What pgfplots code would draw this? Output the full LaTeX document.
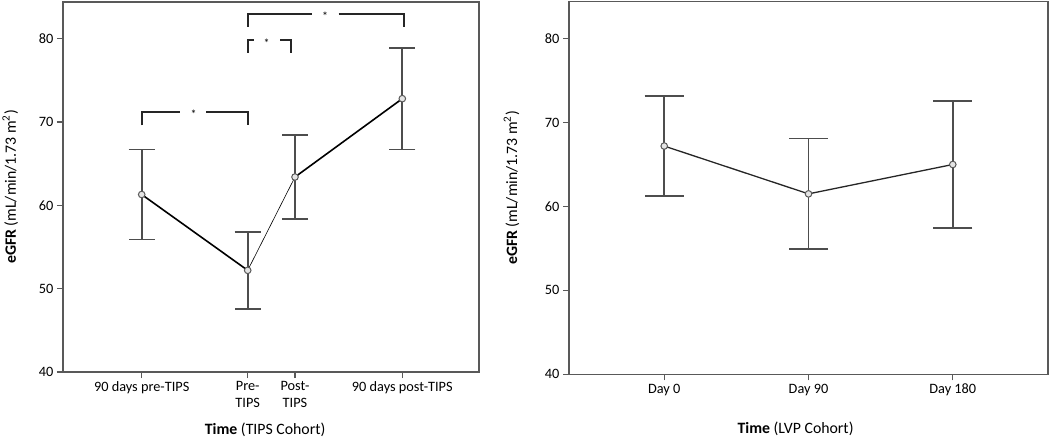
\documentclass[border=0pt]{standalone}
\usepackage{fontspec}
\setmainfont{Carlito}
\usepackage{pgfplots}
\pgfplotsset{compat=1.18}

\definecolor{axgray}{HTML}{595959}
\definecolor{bargray}{HTML}{4D4D4D}

\pgfplotsset{
  egfr/.style={
    scale only axis,
    anchor=south west,
    axis line style={axgray, line width=1.5bp},
    tick style={axgray, line width=1.3bp},
    tick align=outside, tick pos=left,
    major tick length=6bp,
    ymin=40, ymax=84.4,
    ytick={40,50,60,70,80},
    /pgf/number format/assume math mode=true,
    ticklabel style={font=\fontsize{14.3bp}{17bp}\selectfont},
    label style={font=\fontsize{15.8bp}{18bp}\selectfont},
    ylabel={\textbf{eGFR} (mL/min/1.73 m\textsuperscript{2})},
  },
  ebar/.style={
    error bars/.cd, y dir=both, y explicit,
    error bar style={draw=bargray, line width=1.8bp},
    error mark options={draw=bargray, line width=1.8bp, mark size=#1, rotate=90},
  },
  dot/.style={only marks, mark=*, mark size=3.3bp,
    mark options={draw=axgray, fill=gray!20, line width=1bp}},
}

\begin{document}
\begin{tikzpicture}
\useasboundingbox (0,0) rectangle (1050bp,437bp);

% left panel: TIPS cohort
\begin{axis}[egfr,
    at={(63bp,65bp)}, width=416bp, height=370bp,
    xmin=63, xmax=479,
    xtick={141.7,247.7,295,402.3},
    xticklabels={90 days pre-TIPS, Pre-\\TIPS, Post-\\TIPS, 90 days post-TIPS},
    xticklabel style={align=center},
    xlabel={\textbf{Time} (TIPS Cohort)},
    xlabel style={at={(axis description cs:0.486,0)}, anchor=center, yshift=-58bp},
    ylabel style={at={(axis description cs:-0.127,0.5)}, anchor=center},
  ]
  \addplot[black, line width=1.6bp] coordinates {(141.7,61.3) (247.7,52.2)};
  \addplot[black, line width=0.6bp] coordinates {(247.7,52.2) (295,63.4)};
  \addplot[black, line width=1.6bp] coordinates {(295,63.4) (402.3,72.8)};
  \addplot[dot, ebar=13bp] coordinates {
    (141.7,61.3) +- (0,5.4)
    (247.7,52.2) +- (0,4.6)
    (295,63.4)   +- (0,5.0)
    (402.3,72.8) +- (0,6.1)
  };

  % significance brackets
  \begin{scope}[line width=1.7bp, black!85]
    \draw (axis cs:141.7,69.6) |- (axis cs:180,71.2);
    \draw (axis cs:206,71.2) -| (axis cs:247.7,69.6);
    \draw (axis cs:247.7,78.3) |- (axis cs:254,79.8);
    \draw (axis cs:280,79.8) -| (axis cs:291,78.3);
    \draw (axis cs:247.7,81.4) |- (axis cs:312,83.0);
    \draw (axis cs:338.7,83.0) -| (axis cs:403.7,81.4);
  \end{scope}
  \node[font=\fontsize{12bp}{12bp}\selectfont, inner sep=0pt] at (axis cs:193.5,70.9) {*};
  \node[font=\fontsize{12bp}{12bp}\selectfont, inner sep=0pt] at (axis cs:266.7,79.5) {*};
  \node[font=\fontsize{12bp}{12bp}\selectfont, inner sep=0pt] at (axis cs:325,82.7) {*};
\end{axis}

% right panel: LVP cohort
\begin{axis}[egfr,
    at={(569bp,62.7bp)}, width=479bp, height=372.6bp,
    xmin=-0.66, xmax=2.66,
    xtick={0,1,2},
    xticklabels={Day 0, Day 90, Day 180},
    xlabel={\textbf{Time} (LVP Cohort)},
    xlabel style={at={(axis description cs:0.473,0)}, anchor=center, yshift=-54.7bp},
    ylabel style={at={(axis description cs:-0.12,0.5)}, anchor=center},
  ]
  \addplot[black!85, line width=1.3bp] coordinates {(0,67.2) (1,61.5) (2,65.0)};
  \addplot[dot, ebar=19.5bp] coordinates {
    (0,67.2) +- (0,6.0)
    (1,61.5) +- (0,6.6)
    (2,65.0) +- (0,7.6)
  };
\end{axis}
\end{tikzpicture}
\end{document}
